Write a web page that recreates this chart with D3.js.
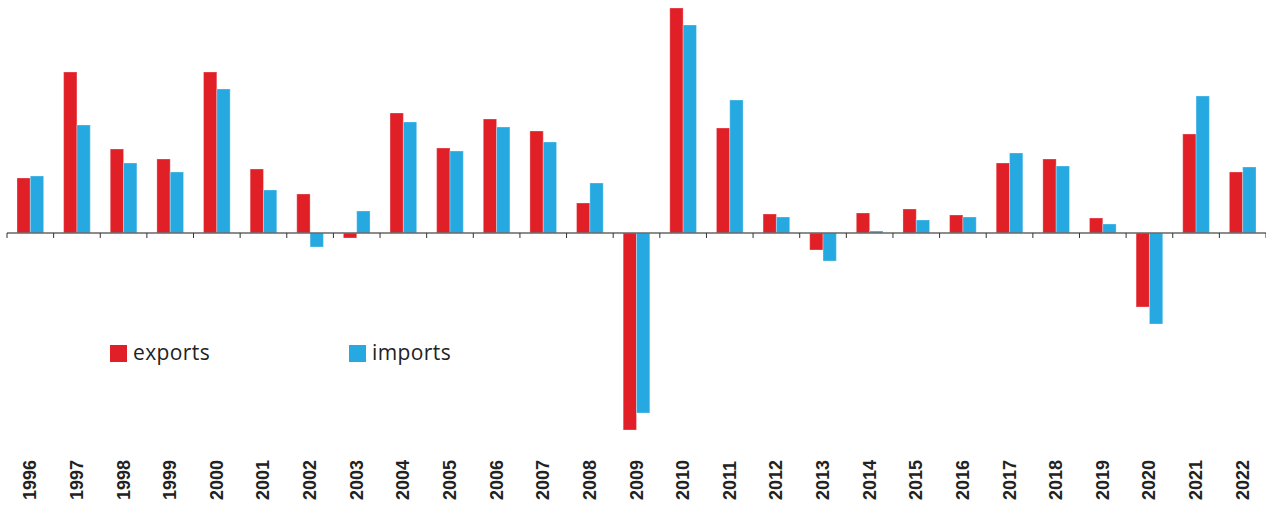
<!DOCTYPE html>
<html>
<head>
<meta charset="utf-8">
<script src="https://cdn.jsdelivr.net/npm/d3@7"></script>
<style>
  body { margin: 0; background: #fff; }
</style>
</head>
<body>
<div id="chart"></div>
<script>
// years along the x axis
var years = ['1996','1997','1998','1999','2000','2001','2002','2003','2004','2005','2006','2007','2008','2009',
             '2010','2011','2012','2013','2014','2015','2016','2017','2018','2019','2020','2021','2022'];

// annual change
var exports = [5.5, 16.1, 8.4, 7.4, 16.1, 6.4, 3.9, -0.5, 12.0, 8.5, 11.4, 10.2, 3.0, -19.7,
               22.5, 10.5, 1.9, -1.7, 2.0, 2.4, 1.8, 7.0, 7.4, 1.5, -7.4, 9.9, 6.1];
var imports = [5.7, 10.8, 7.0, 6.1, 14.4, 4.3, -1.4, 2.2, 11.1, 8.2, 10.6, 9.1, 5.0, -18.0,
               20.8, 13.3, 1.6, -2.8, 0.2, 1.3, 1.6, 8.0, 6.7, 0.9, -9.1, 13.7, 6.6];

var seriesNames = ['exports', 'imports'];
var colorList = ['#e11f27', '#26a9e0'];

var svgWidth = 1266;
var svgHeight = 508;

var svg = d3.select('#chart')
    .append('svg')
    .attr('width', svgWidth)
    .attr('height', svgHeight);

var data = years.map(function(y, i) {
    return {year: y, exports: exports[i], imports: imports[i]};
});

var xScale = d3.scaleBand()
    .domain(years)
    .range([7, 1266])
    .padding(0);

var xSub = d3.scaleBand()
    .domain(seriesNames)
    .range([0, xScale.bandwidth()])
    .paddingInner(0)
    .paddingOuter(0.75);

var yScale = d3.scaleLinear()
    .domain([-20, 20])
    .range([433, 33]);

var color = d3.scaleOrdinal().domain(seriesNames).range(colorList);

// bars
var groups = svg.selectAll('.yearGroup')
    .data(data)
    .enter()
    .append('g')
    .classed('yearGroup', true)
    .attr('transform', d => 'translate(' + xScale(d.year) + ',0)');

groups.selectAll('rect')
    .data(d => seriesNames.map(k => ({key: k, value: d[k]})))
    .enter()
    .append('rect')
    .attr('x', d => xSub(d.key))
    .attr('y', d => yScale(Math.max(0, d.value)))
    .attr('width', xSub.bandwidth())
    .attr('height', d => Math.abs(yScale(d.value) - yScale(0)))
    .attr('fill', d => color(d.key))
    .attr('stroke', '#fff')
    .attr('stroke-opacity', 0.3)
    .attr('stroke-width', 1);

// zero line with ticks at band edges
var y0 = yScale(0);
svg.append('line')
    .attr('x1', 7)
    .attr('x2', svgWidth)
    .attr('y1', y0)
    .attr('y2', y0)
    .attr('stroke', '#666')
    .attr('stroke-width', 1.5);

var tickPos = years.map(d => xScale(d)).concat([xScale.range()[1]]);
svg.selectAll('.tick')
    .data(tickPos)
    .enter()
    .append('line')
    .classed('tick', true)
    .attr('x1', d => d)
    .attr('x2', d => d)
    .attr('y1', y0)
    .attr('y2', y0 + 5)
    .attr('stroke', '#333')
    .attr('stroke-width', 1);

// year labels, rotated
svg.selectAll('.yearLabel')
    .data(years)
    .enter()
    .append('text')
    .classed('yearLabel', true)
    .attr('transform', d => 'translate(' + (xScale(d) + xScale.bandwidth() / 2 + 6) + ',500) rotate(-90)')
    .attr('text-anchor', 'start')
    .attr('font-family', 'Liberation Sans, Arial, sans-serif')
    .attr('font-weight', 'bold')
    .attr('font-size', 18)
    .attr('fill', '#222')
    .text(d => d);

// legend
var legendX = [110, 349];
var legend = svg.selectAll('.legendItem')
    .data(seriesNames)
    .enter()
    .append('g')
    .classed('legendItem', true)
    .attr('transform', (d, i) => 'translate(' + legendX[i] + ',345)');

legend.append('rect')
    .attr('width', 17)
    .attr('height', 17)
    .attr('fill', d => color(d));

legend.append('text')
    .attr('x', 23)
    .attr('y', 15)
    .attr('font-family', 'Open Sans, sans-serif')
    .attr('font-size', 21)
    .attr('letter-spacing', 0.4)
    .attr('fill', '#222')
    .text(d => d);
</script>
</body>
</html>
